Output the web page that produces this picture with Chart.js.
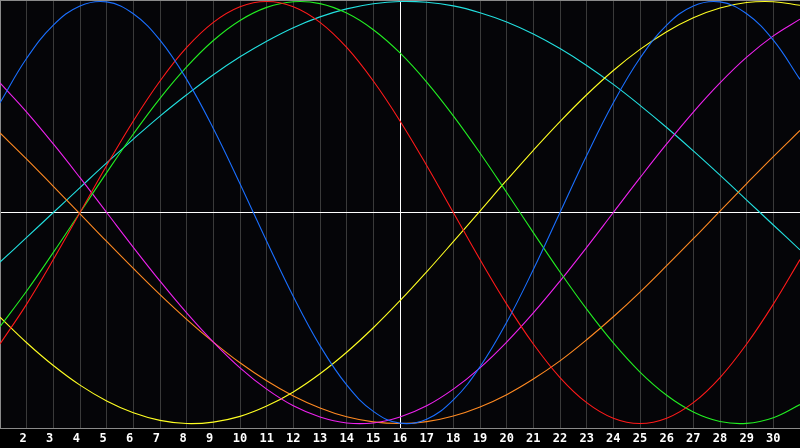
<!DOCTYPE html>
<html>
<head>
<meta charset="utf-8">
<script src="https://cdn.jsdelivr.net/npm/chart.js@4/dist/chart.umd.min.js"></script>
<style>
    html, body { margin: 0; padding: 0; background: #000; }
    #wrap { width: 800px; height: 448px; position: relative; }
</style>
</head>
<body>
<div id="wrap"><canvas id="bioChart"></canvas></div>
<script>
// days shown on the x axis
const days = ['1','2','3','4','5','6','7','8','9','10','11','12','13','14','15','16',
              '17','18','19','20','21','22','23','24','25','26','27','28','29','30','31'];

// curve values (-1 .. 1)
const blueVals = [0.520, 0.731, 0.888, 0.979, 0.998, 0.942, 0.817, 0.631, 0.398, 0.136, -0.136, -0.398, -0.631, -0.817, -0.942, -0.998,
                  -0.979, -0.888, -0.731, -0.520, -0.270, 0.000, 0.270, 0.520, 0.731, 0.888, 0.979, 0.998, 0.942, 0.817, 0.631];
const redVals = [-0.623, -0.434, -0.223, 0.000, 0.223, 0.434, 0.623, 0.782, 0.901, 0.975, 1.000, 0.975, 0.901, 0.782, 0.623, 0.434,
                 0.223, 0.000, -0.223, -0.434, -0.623, -0.782, -0.901, -0.975, -1.000, -0.975, -0.901, -0.782, -0.623, -0.434, -0.223];
const greenVals = [-0.541, -0.372, -0.189, 0.000, 0.189, 0.372, 0.541, 0.690, 0.815, 0.910, 0.972, 0.999, 0.990, 0.945, 0.866, 0.756,
                   0.618, 0.458, 0.282, 0.095, -0.095, -0.282, -0.458, -0.618, -0.756, -0.866, -0.945, -0.990, -0.999, -0.972, -0.910];
const magentaVals = [0.614, 0.476, 0.325, 0.165, 0.000, -0.165, -0.325, -0.476, -0.614, -0.736, -0.837, -0.916, -0.969, -0.997, -0.997, -0.969,
                     -0.916, -0.837, -0.736, -0.614, -0.476, -0.325, -0.165, 0.000, 0.165, 0.325, 0.476, 0.614, 0.736, 0.837, 0.916];
const yellowVals = [-0.496, -0.617, -0.725, -0.818, -0.893, -0.949, -0.985, -1.000, -0.993, -0.966, -0.917, -0.850, -0.764, -0.662, -0.546, -0.418,
                    -0.281, -0.138, 0.007, 0.153, 0.295, 0.431, 0.558, 0.673, 0.773, 0.857, 0.923, 0.969, 0.995, 0.999, 0.982];
const orangeVals = [0.377, 0.253, 0.124, -0.006, -0.137, -0.265, -0.389, -0.506, -0.614, -0.712, -0.797, -0.869, -0.926, -0.968, -0.992, -1.000,
                    -0.991, -0.964, -0.921, -0.863, -0.789, -0.703, -0.603, -0.494, -0.377, -0.252, -0.124, 0.007, 0.137, 0.265, 0.389];
const cyanVals = [-0.235, -0.118, 0.000, 0.118, 0.235, 0.348, 0.457, 0.558, 0.653, 0.738, 0.812, 0.876, 0.927, 0.965, 0.989, 1.000,
                  0.996, 0.979, 0.947, 0.903, 0.846, 0.777, 0.697, 0.607, 0.508, 0.403, 0.292, 0.177, 0.059, -0.059, -0.177];

const seriesColors = ['#1a6fff', '#ff1a1a', '#22ee22', '#ee22ee', '#ffff22', '#ff8a22', '#22e0e0'];
const seriesData = [blueVals, redVals, greenVals, magentaVals, yellowVals, orangeVals, cyanVals];

// background + top border
const framePlugin = {
    id: 'frame',
    beforeDraw(chart) {
        const c = chart.ctx;
        c.save();
        c.fillStyle = '#000';
        c.fillRect(0, 0, chart.width, chart.height);
        const a = chart.chartArea;
        c.fillStyle = '#050508';
        c.fillRect(a.left, a.top, a.right - a.left, a.bottom - a.top);
        c.restore();
    },
    afterDraw(chart) {
        const c = chart.ctx;
        const a = chart.chartArea;
        c.save();
        c.strokeStyle = '#8a8a8a';
        c.lineWidth = 1;
        c.beginPath();
        c.moveTo(a.left, a.top + 0.5);
        c.lineTo(a.right, a.top + 0.5);
        c.stroke();
        c.restore();
    }
};

const ctx = document.getElementById('bioChart').getContext('2d');
new Chart(ctx, {
    type: 'line',
    data: {
        labels: days,
        datasets: seriesData.map((vals, i) => ({
            data: vals,
            borderColor: seriesColors[i],
            borderWidth: 1.1,
            pointRadius: 0,
            pointHoverRadius: 0,
            tension: 0.4,
            fill: false
        }))
    },
    options: {
        responsive: true,
        maintainAspectRatio: false,
        animation: false,
        layout: { autoPadding: false, padding: 0 },
        plugins: {
            legend: { display: false },
            tooltip: { enabled: false }
        },
        scales: {
            x: {
                offset: false,
                afterFit: function(scale) {
                    scale.height = 20;
                },
                grid: {
                    drawTicks: true,
                    tickLength: 4,
                    tickColor: 'rgba(0,0,0,0)',
                    lineWidth: 1,
                    color: function(c) {
                        if (c.index === 15) return '#ffffff';
                        if (c.index === 0 || c.index === 30) return 'rgba(0,0,0,0)';
                        return '#3a3a3a';
                    }
                },
                border: { color: '#8a8a8a' },
                ticks: {
                    autoSkip: false,
                    maxRotation: 0,
                    padding: 0,
                    color: '#ffffff',
                    font: { family: 'DejaVu Sans Mono', size: 12, weight: 'bold' },
                    callback: function(value, index) {
                        if (index === 0 || index === 30) return '';
                        // single digits sit a little left of their line
                        return days[index].length === 1 ? days[index] + ' ' : days[index];
                    }
                }
            },
            y: {
                min: -1.021,
                max: 1.007,
                afterFit: function(scale) {
                    scale.width = 0;
                },
                grid: {
                    drawTicks: false,
                    color: function(c) {
                        return c.tick.value === 0 ? '#ffffff' : 'rgba(0,0,0,0)';
                    }
                },
                border: { color: '#8a8a8a' },
                ticks: { display: false, stepSize: 1 }
            }
        }
    },
    plugins: [framePlugin]
});
</script>
</body>
</html>
